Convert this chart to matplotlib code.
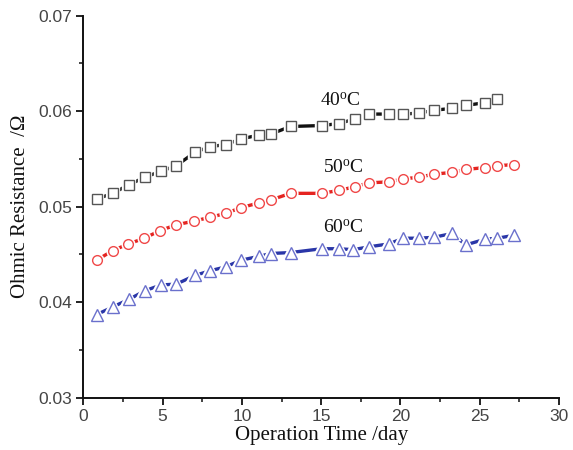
import matplotlib
matplotlib.use("Agg")
import matplotlib.pyplot as plt
from matplotlib.ticker import MultipleLocator, FormatStrFormatter

# Ohmic resistance vs operation time at three temperatures
days_40 = [0.84, 1.85, 2.88, 3.89, 4.88, 5.87, 7.04, 8.01, 8.98, 9.94, 11.08, 11.81,
           13.07, 15.03, 16.10, 17.15, 18.01, 19.25, 20.18, 21.17, 22.11, 23.27,
           24.11, 25.35, 26.10]
res_40 = [0.0508, 0.0514, 0.0523, 0.0531, 0.0537, 0.0543, 0.0557, 0.0563, 0.0565,
          0.0571, 0.0575, 0.0576, 0.0584, 0.0585, 0.0587, 0.0592, 0.0597, 0.0597,
          0.0597, 0.0598, 0.0601, 0.0603, 0.0606, 0.0609, 0.0613]

days_50 = [0.84, 1.85, 2.84, 3.85, 4.84, 5.85, 7.00, 8.01, 8.98, 9.94, 11.08, 11.81,
           13.07, 15.03, 16.10, 17.15, 18.01, 19.25, 20.18, 21.17, 22.11, 23.27,
           24.11, 25.35, 26.10, 27.16]
res_50 = [0.0444, 0.0454, 0.0461, 0.0467, 0.0475, 0.0481, 0.0485, 0.0489, 0.0493,
          0.0499, 0.0504, 0.0507, 0.0514, 0.0514, 0.0517, 0.0521, 0.0525, 0.0526,
          0.0529, 0.0531, 0.0534, 0.0536, 0.0539, 0.0541, 0.0543, 0.0544]

days_60 = [0.84, 1.85, 2.88, 3.89, 4.88, 5.87, 7.04, 8.01, 8.98, 9.94, 11.08, 11.81,
           13.07, 15.03, 16.10, 17.03, 18.01, 19.25, 20.18, 21.17, 22.11, 23.27,
           24.11, 25.35, 26.10, 27.16]
res_60 = [0.0387, 0.0395, 0.0403, 0.0412, 0.0418, 0.0419, 0.0428, 0.0433, 0.0437,
          0.0444, 0.0448, 0.0451, 0.0452, 0.0456, 0.0456, 0.0455, 0.0458, 0.0461,
          0.0467, 0.0467, 0.0468, 0.0472, 0.0460, 0.0466, 0.0467, 0.0470]

labels = ["40$^{\\mathrm{o}}$C", "50$^{\\mathrm{o}}$C", "60$^{\\mathrm{o}}$C"]
label_pos = [(16.2, 0.0611), (16.4, 0.0541), (16.4, 0.0478)]

plt.rcParams["mathtext.fontset"] = "custom"
plt.rcParams["mathtext.rm"] = "Liberation Serif"
plt.rcParams["mathtext.it"] = "Liberation Serif:italic"

fig = plt.figure(figsize=(5.73, 4.5), dpi=100)
ax = fig.add_axes([0.1454, 0.1162, 0.8302, 0.8489])

series = [
    (days_40, res_40, "s", 6.5, "#111111", "#555555"),
    (days_50, res_50, "o", 7.0, "#e52420", "#f04848"),
    (days_60, res_60, "^", 8.0, "#2a36a8", "#6a70cc"),
]

for x, y, mk, ms, lc, mc in series:
    ax.plot(x, y, "-", color=lc, lw=2.4, zorder=2)
    # white halo keeps the line short of each marker
    ax.plot(x, y, linestyle="none", marker=mk, ms=ms, mfc="white",
            mec="white", mew=3.2, zorder=3)
    ax.plot(x, y, linestyle="none", marker=mk, ms=ms, mfc="white",
            mec=mc, mew=1.0, zorder=4)

for txt, (tx, ty) in zip(labels, label_pos):
    ax.text(tx, ty, txt, ha="center", va="center", fontsize=14,
            family="Liberation Serif", color="#111111")

ax.set_xlim(0, 30)
ax.set_ylim(0.03, 0.07)
ax.xaxis.set_major_locator(MultipleLocator(5))
ax.xaxis.set_minor_locator(MultipleLocator(2.5))
ax.yaxis.set_major_locator(MultipleLocator(0.01))
ax.yaxis.set_minor_locator(MultipleLocator(0.005))
ax.yaxis.set_major_formatter(FormatStrFormatter("%.2f"))

for side in ("top", "right"):
    ax.spines[side].set_visible(False)
for side in ("left", "bottom"):
    ax.spines[side].set_linewidth(1.4)
    ax.spines[side].set_color("#111111")

ax.tick_params(which="major", direction="out", length=5, width=1.3,
               labelsize=12.5, labelcolor="#444444", color="#111111", pad=3)
ax.tick_params(which="minor", direction="out", length=3, width=1.1, color="#111111")
for lbl in ax.get_xticklabels() + ax.get_yticklabels():
    lbl.set_family("Liberation Sans")

ax.set_xlabel("Operation Time /day", fontsize=15, family="Liberation Serif",
              labelpad=1.5, color="#111111")
ax.set_ylabel("Ohmic Resistance  /\u03a9", fontsize=15, family="Liberation Serif",
              labelpad=6, color="#111111")

fig.savefig("out.png", dpi=100)
